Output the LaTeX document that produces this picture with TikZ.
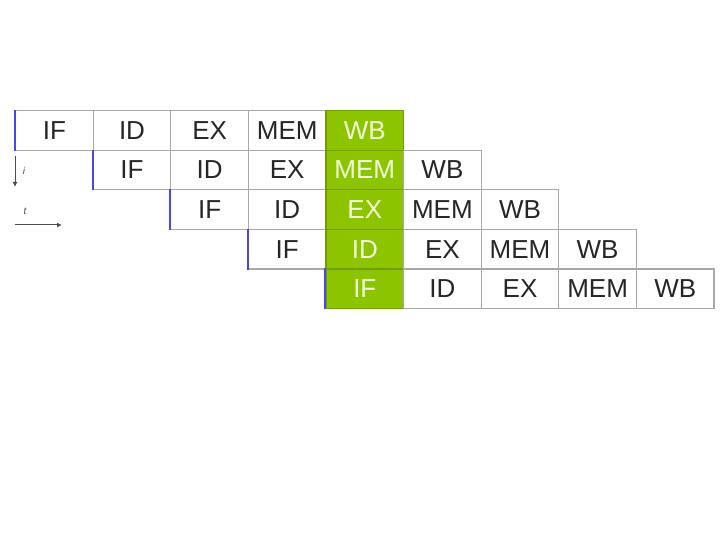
\documentclass[tikz,border=0pt]{standalone}
\usepackage{fontspec}
\setmainfont{Liberation Sans}
\usetikzlibrary{arrows.meta}
\definecolor{cellgrey}{HTML}{A8A8A8}
\definecolor{hl}{HTML}{8CC400}
\definecolor{hltext}{HTML}{F4FFD8}
\definecolor{leftblue}{HTML}{4848E8}
\tikzset{
  cell/.style={draw=cellgrey, line width=1.2pt, minimum width=77.6pt, minimum height=39.6pt, inner sep=0pt, anchor=north west, font=\fontsize{26}{26}\selectfont, text=black!85},
  hlcell/.style={cell, fill=hl, draw=hl!80!black, text=hltext},
  bluebar/.style={draw=leftblue, line width=2pt},
  axis/.style={draw=black!70, line width=1pt, -{Latex[length=5pt,width=5pt]}},
  small/.style={font=\fontsize{10}{10}\itshape, text=black!70, inner sep=0pt}
}
\begin{document}
\begin{tikzpicture}[x=1pt,y=-1pt]
\useasboundingbox (0,0) rectangle (720,540);
\def\cw{77.6}
\def\rh{39.6}
\foreach \r in {0,...,4} {
  \foreach \s [count=\k from 0] in {IF,ID,EX,MEM,WB} {
    \pgfmathtruncatemacro{\col}{\r+\k}
    \pgfmathsetmacro{\xx}{15+\col*\cw}
    \pgfmathsetmacro{\yy}{110+\r*\rh}
    \ifnum\col=4
      \node[hlcell] (c\r\k) at (\xx,\yy) {\s};
    \else
      \node[cell] (c\r\k) at (\xx,\yy) {\s};
    \fi
  }
  \draw[bluebar] (c\r0.north west) -- (c\r0.south west);
}
\coordinate (ia) at (15,156);
\coordinate (ib) at (15,187);
\draw[axis] (ia) -- (ib);
\node[small] (ilab) at (24,171) {i};
\coordinate (ta) at (15,225);
\coordinate (tb) at (62,225);
\draw[axis] (ta) -- (tb);
\node[small] (tlab) at (25,211) {t};
\end{tikzpicture}
\end{document}
